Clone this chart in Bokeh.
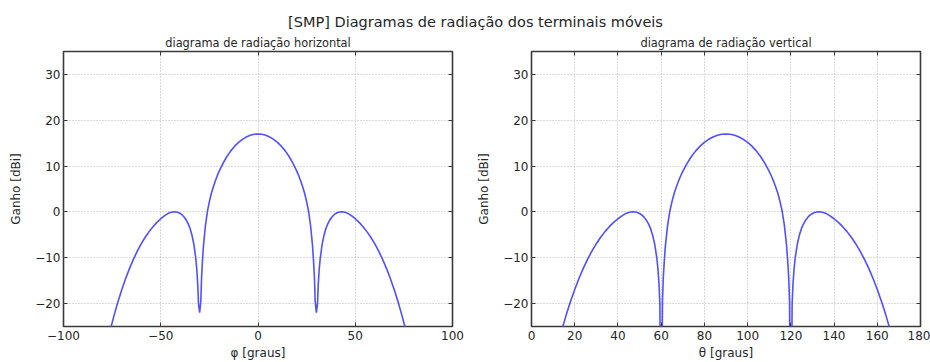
from bokeh.plotting import figure
from bokeh.layouts import column, row
from bokeh.models import Range1d, LinearAxis, FixedTicker
from bokeh.core.properties import value
from bokeh.embed import file_html
from bokeh.resources import INLINE

FONT = "DejaVu Sans"

main_title = "[SMP] Diagramas de radiação dos terminais móveis"
subtitle_h = "diagrama de radiação horizontal"
subtitle_v = "diagrama de radiação vertical"
xlabel_h = "φ [graus]"
xlabel_v = "θ [graus]"
ylabel = "Ganho [dBi]"

# horizontal pattern: azimuth phi [deg] and gain [dBi]
phi_h = [-78, -76, -74, -72, -70, -68, -66, -64, -62, -60,
         -58, -56, -54, -52, -50, -48, -46, -45, -44, -43,
         -42, -41, -40, -39, -38, -37, -36, -35, -34, -33,
         -32, -31.5, -31, -30.6, -30, -29.4, -29, -28.5, -28, -27,
         -26, -25, -24, -23, -22, -21, -20, -18, -16, -14,
         -12, -10, -8, -6, -4, -2,
         0,
         2, 4, 6, 8, 10, 12, 14, 16, 18, 20,
         21, 22, 23, 24, 25, 26, 27, 28,
         28.5, 29, 29.4, 30, 30.6, 31, 31.5, 32,
         33, 34, 35, 36, 37, 38, 39, 40, 41, 42, 43, 44, 45, 46,
         48, 50, 52, 54, 56, 58, 60, 62, 64, 66, 68, 70, 72, 74, 76, 78]
gain_h = [-29.42, -25.82, -22.57, -19.62, -16.92, -14.47, -12.27, -10.29, -8.51, -6.93,
          -5.53, -4.30, -3.22, -2.29, -1.49, -0.81, -0.27, -0.11, -0.01, 0.03,
          -0.01, -0.13, -0.34, -0.66, -1.1, -1.7, -2.5, -3.5, -5.0, -7.0,
          -10.1, -12.4, -15.7, -20.0, -22.0, -19.5, -14.2, -10.3, -7.2, -2.9,
          0.1, 2.25, 4.03, 5.45, 6.71, 7.83, 8.84, 10.6, 12.09, 13.32,
          14.35, 15.18, 15.84, 16.36, 16.72, 16.94,
          17.0,
          16.94, 16.72, 16.36, 15.84, 15.18, 14.35, 13.32, 12.09, 10.6, 8.84,
          7.83, 6.71, 5.45, 4.03, 2.25, 0.1, -2.9, -7.2,
          -10.3, -14.2, -19.5, -22.0, -20.0, -15.7, -12.4, -10.1,
          -7.0, -5.0, -3.5, -2.5, -1.7, -1.1, -0.66, -0.34, -0.13, -0.01, 0.03, -0.01, -0.11, -0.27,
          -0.81, -1.49, -2.29, -3.22, -4.30, -5.53, -6.93, -8.51, -10.29, -12.27, -14.47, -16.92, -19.62, -22.57, -25.82, -29.42]

# vertical pattern: elevation theta [deg] and gain [dBi]
theta_v = [12, 14, 16, 18, 20, 22, 24, 26, 28, 30,
           32, 34, 36, 38, 40, 42, 44, 45, 46, 47,
           48, 49, 50, 51, 52, 53, 54, 55, 56, 57,
           58, 58.5, 59, 59.4, 60, 60.6, 61, 61.5, 62, 63,
           64, 65, 66, 67, 68, 69, 70, 72, 74, 76,
           78, 80, 82, 84, 86, 88,
           90,
           92, 94, 96, 98, 100, 102, 104, 106, 108, 110,
           111, 112, 113, 114, 115, 116, 117, 118,
           118.5, 119, 119.4, 120, 120.6, 121, 121.5, 122,
           123, 124, 125, 126, 127, 128, 129, 130, 131, 132, 133, 134, 135, 136,
           138, 140, 142, 144, 146, 148, 150, 152, 154, 156, 158, 160, 162, 164, 166, 168]
gain_v = [-29.42, -25.82, -22.57, -19.62, -16.92, -14.47, -12.27, -10.29, -8.51, -6.93,
          -5.53, -4.30, -3.22, -2.29, -1.49, -0.81, -0.27, -0.11, -0.01, 0.03,
          -0.01, -0.13, -0.34, -0.66, -1.1, -1.7, -2.5, -3.5, -5.0, -7.0,
          -10.1, -12.4, -15.7, -20.0, -60.0, -19.5, -14.2, -10.3, -7.2, -2.9,
          0.1, 2.25, 4.03, 5.45, 6.71, 7.83, 8.84, 10.6, 12.09, 13.32,
          14.35, 15.18, 15.84, 16.36, 16.72, 16.94,
          17.0,
          16.94, 16.72, 16.36, 15.84, 15.18, 14.35, 13.32, 12.09, 10.6, 8.84,
          7.83, 6.71, 5.45, 4.03, 2.25, 0.1, -2.9, -7.2,
          -10.3, -14.2, -19.5, -60.0, -20.0, -15.7, -12.4, -10.1,
          -7.0, -5.0, -3.5, -2.5, -1.7, -1.1, -0.66, -0.34, -0.13, -0.01, 0.03, -0.01, -0.11, -0.27,
          -0.81, -1.49, -2.29, -3.22, -4.30, -5.53, -6.93, -8.51, -10.29, -12.27, -14.47, -16.92, -19.62, -22.57, -25.82, -29.42]

xticks_h = [-100, -50, 0, 50, 100]
xticks_v = [0, 20, 40, 60, 80, 100, 120, 140, 160, 180]
yticks = [-20, -10, 0, 10, 20, 30]

LINE_COLOR = "#5050ff"
TEXT_COLOR = "#262626"
FRAME_COLOR = "#3a3a3a"


def minus(v):
    return str(v).replace("-", "\u2212")


def make_plot(x, y, xr, xticks, xlabel, left, right):
    p = figure(width=465, height=312, x_range=Range1d(*xr), y_range=Range1d(-25, 35),
               output_backend="svg", toolbar_location=None,
               min_border_left=left, min_border_right=right,
               min_border_top=1, min_border_bottom=36,
               x_axis_location=None, y_axis_location=None)
    p.background_fill_color = "white"
    p.border_fill_color = "white"
    p.outline_line_color = FRAME_COLOR
    p.outline_line_width = 1.6

    xaxis = LinearAxis(ticker=FixedTicker(ticks=xticks),
                       major_label_overrides={t: minus(t) for t in xticks},
                       axis_label=xlabel)
    yaxis = LinearAxis(ticker=FixedTicker(ticks=yticks),
                       major_label_overrides={t: minus(t) for t in yticks},
                       axis_label=ylabel)
    for ax in (xaxis, yaxis):
        ax.axis_line_color = None
        ax.major_tick_in = 4
        ax.major_tick_out = 0
        ax.major_tick_line_color = FRAME_COLOR
        ax.minor_tick_line_color = None
        ax.major_label_text_font = FONT
        ax.major_label_text_font_size = "12px"
        ax.major_label_text_color = TEXT_COLOR
        ax.axis_label_text_font = FONT
        ax.axis_label_text_font_size = "12px"
        ax.axis_label_text_font_style = "normal"
        ax.axis_label_text_color = TEXT_COLOR
    xaxis.major_label_standoff = 4
    xaxis.axis_label_standoff = 3
    yaxis.major_label_standoff = 3
    yaxis.axis_label_standoff = 9
    p.add_layout(xaxis, "below")
    p.add_layout(yaxis, "left")

    # inward tick marks on the top and right sides, without labels
    for loc, ticks in (("above", xticks), ("right", yticks)):
        ax = LinearAxis(ticker=FixedTicker(ticks=ticks))
        ax.axis_line_color = None
        ax.major_tick_in = 4
        ax.major_tick_out = 0
        ax.major_tick_line_color = FRAME_COLOR
        ax.minor_tick_line_color = None
        ax.major_label_text_color = None
        ax.major_label_text_font_size = "1px"
        ax.major_label_standoff = 0
        p.add_layout(ax, loc)

    p.xgrid.ticker = FixedTicker(ticks=xticks)
    p.ygrid.ticker = FixedTicker(ticks=yticks)
    for g in (p.xgrid, p.ygrid):
        g.grid_line_color = "#b4b4b4"
        g.grid_line_dash = "1 2"
        g.grid_line_width = 1

    p.line(x, y, line_color=LINE_COLOR, line_width=1.6)
    return p


header = figure(width=930, height=50, x_range=Range1d(0, 930), y_range=Range1d(50, 0),
                output_backend="svg", toolbar_location=None,
                min_border=0, x_axis_location=None, y_axis_location=None)
header.outline_line_color = None
header.xgrid.visible = False
header.ygrid.visible = False
header.text(x=[475], y=[21], text=[main_title], text_align="center", text_baseline="middle",
            text_font=value(FONT), text_font_size="14.5px", text_color=TEXT_COLOR)
header.text(x=[257.5, 725.5], y=[42, 42], text=[subtitle_h, subtitle_v], text_align="center",
            text_baseline="middle", text_font=value(FONT), text_font_size="11.4px",
            text_color=TEXT_COLOR)

p1 = make_plot(phi_h, gain_h, (-100, 100), xticks_h, xlabel_h, 63, 13)
p2 = make_plot(theta_v, gain_v, (0, 180), xticks_v, xlabel_v, 66, 10)

layout = column(header, row(p1, p2, spacing=0), spacing=0)

open("out.html", "w").write(file_html(layout, INLINE))
